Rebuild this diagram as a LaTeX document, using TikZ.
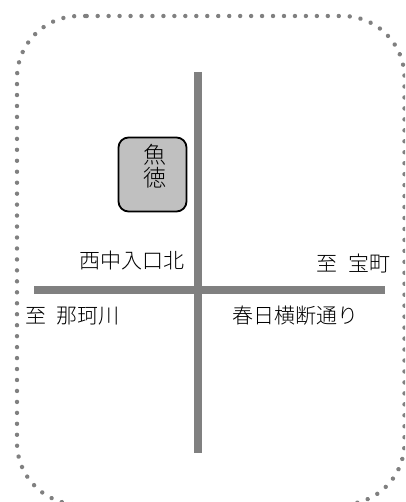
\documentclass[tikz,border=0pt]{standalone}
\usepackage{fontspec}
\setmainfont{Noto Sans CJK JP}[UprightFont=* Light]
\tikzset{
  road/.style={draw=roadgray,line width=8pt},
  lbl/.style={font=\fontsize{21}{21}\selectfont,text=black,inner sep=0pt,anchor=center},
}
\definecolor{roadgray}{RGB}{128,128,128}
\definecolor{shopfill}{RGB}{192,192,192}
\begin{document}
\begin{tikzpicture}[x=1pt,y=-1pt]
\useasboundingbox (0,0) rectangle (405,502);
\clip (0,0) rectangle (405,502);
\draw[roadgray,line width=4.4pt,line cap=round,dash pattern=on 0.01pt off 10.95pt,rounded corners=62pt]
  (86.7,16) -- (404.5,16) -- (404.5,504.5) -- (17,504.5) -- (17,16) -- (86.7,16);
\coordinate (vt) at (197.5,72);
\coordinate (vb) at (197.5,453);
\coordinate (hl) at (34,290);
\coordinate (hr) at (385,290);
\draw[road] (vt) -- (vb);
\draw[road] (hl) -- (hr);
\node[draw=black,line width=1.8pt,fill=shopfill,rounded corners=10pt,minimum width=68pt,minimum height=74pt,inner sep=0pt] (shop) at (152.5,174.5) {};
\node[lbl,font=\fontsize{23}{23.5}\selectfont,align=center] (name) at (155,166) {魚\\徳};
\node[lbl] (a) at (132,260) {西中入口北};
\node[lbl] (b) at (353.5,264) {至\hspace{10.5pt}宝町};
\node[lbl] (c) at (72.5,316) {至\hspace{10.5pt}那珂川};
\node[lbl] (d) at (295,316) {春日横断通り};
\end{tikzpicture}
\end{document}
